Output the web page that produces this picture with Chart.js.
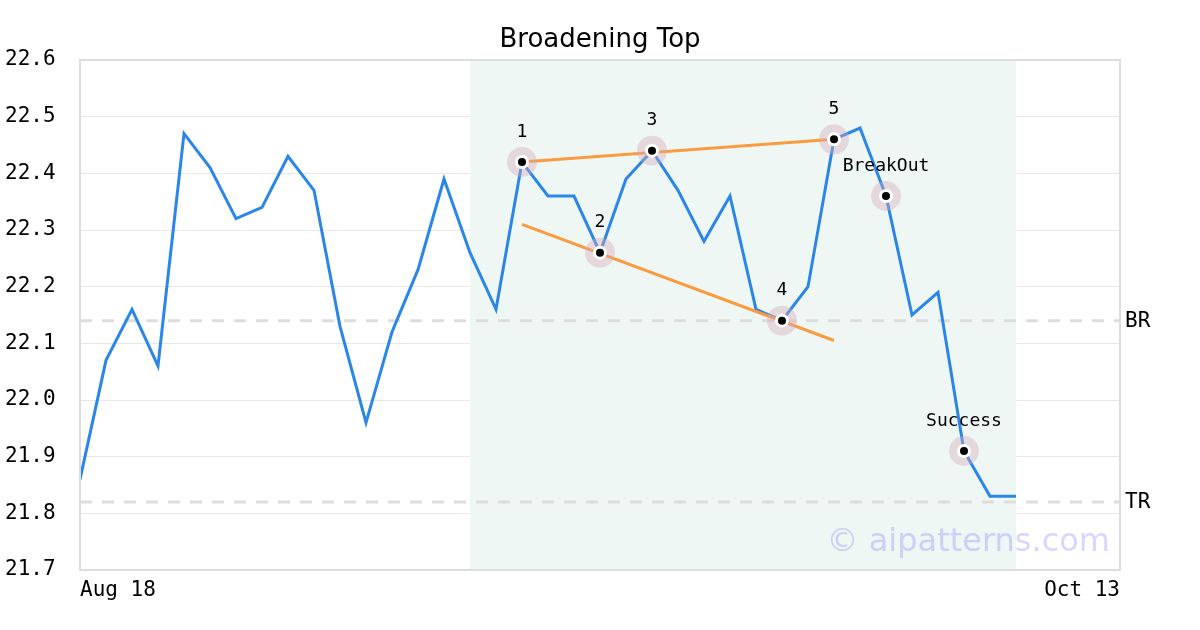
<!DOCTYPE html>
<html>
<head>
<meta charset="utf-8">
<script src="https://cdn.jsdelivr.net/npm/chart.js@4"></script>
<style>
  html, body { margin: 0; padding: 0; background: #fff; }
  #wrap { width: 1200px; height: 630px; }
</style>
</head>
<body>
<div id="wrap"><canvas id="chart" width="1200" height="630"></canvas></div>
<script>
// dates (trading days) on the x axis
const dates = [
  'Aug 18','Aug 19','Aug 20','Aug 21','Aug 22',
  'Aug 25','Aug 26','Aug 27','Aug 28','Aug 29',
  'Sep 1','Sep 2','Sep 3','Sep 4','Sep 5',
  'Sep 8','Sep 9','Sep 10','Sep 11','Sep 12',
  'Sep 15','Sep 16','Sep 17','Sep 18','Sep 19',
  'Sep 22','Sep 23','Sep 24','Sep 25','Sep 26',
  'Sep 29','Sep 30','Oct 1','Oct 2','Oct 3',
  'Oct 6','Oct 7','Oct 8','Oct 9','Oct 10',
  'Oct 13'
];

// closing prices
const prices = [
  21.86, 22.07, 22.16, 22.06, 22.47, 22.41, 22.32, 22.34, 22.43, 22.37,
  22.13, 21.96, 22.12, 22.23, 22.39, 22.26, 22.16, 22.42, 22.36, 22.36,
  22.26, 22.39, 22.44, 22.37, 22.28, 22.36, 22.16, 22.14, 22.20, 22.46,
  22.48, 22.36, 22.15, 22.19, 21.91, 21.83, 21.83
];

// pattern points
const markerIdx = [17, 20, 22, 27, 29, 31, 34];
const markerText = ['1', '2', '3', '4', '5', 'BreakOut', 'Success'];

// trend lines (start index, end index) and their values
const lineIdx = [17, 29];
const topLine = [22.42, 22.46];
const bottomLine = [22.31, 22.105];

// horizontal levels
const levelNames = ['BR', 'TR'];
const levelValues = [22.14, 21.82];

// shaded pattern range (index)
const zoneIdx = [15, 36];

const yTicks = [21.7, 21.8, 21.9, 22.0, 22.1, 22.2, 22.3, 22.4, 22.5, 22.6];

const mono = 'DejaVu Sans Mono';

function sparse(idx, vals) {
    const arr = dates.map(() => null);
    idx.forEach((i, k) => { arr[i] = vals[k]; });
    return arr;
}

const markerVals = markerIdx.map(i => prices[i]);

// zone shading, frame, title, level labels, marker labels, watermark
const decorPlugin = {
    id: 'decor',
    beforeDatasetsDraw(chart) {
        const ctx = chart.ctx;
        const area = chart.chartArea;
        const x = chart.scales.x;
        const x1 = x.getPixelForValue(zoneIdx[0]);
        const x2 = x.getPixelForValue(zoneIdx[1]);
        ctx.save();
        ctx.fillStyle = '#eff7f4';
        ctx.fillRect(x1, area.top, x2 - x1, area.bottom - area.top);

        // title, centred on the canvas
        ctx.font = '26px "DejaVu Sans"';
        ctx.fillStyle = '#000';
        ctx.textAlign = 'center';
        ctx.textBaseline = 'middle';
        ctx.fillText('Broadening Top', chart.width / 2, 40);
        ctx.restore();
    },
    afterDatasetsDraw(chart) {
        const ctx = chart.ctx;
        const area = chart.chartArea;
        const y = chart.scales.y;
        ctx.save();

        // watermark
        ctx.font = '32px "DejaVu Sans"';
        ctx.fillStyle = 'rgba(120, 120, 255, 0.3)';
        ctx.textAlign = 'right';
        ctx.textBaseline = 'middle';
        ctx.fillText('\u00a9 aipatterns.com', area.right - 10, 543);

        // frame
        ctx.strokeStyle = '#dddddd';
        ctx.lineWidth = 2;
        ctx.strokeRect(area.left, area.top, area.right - area.left, area.bottom - area.top);

        // level labels
        ctx.font = '21px "' + mono + '"';
        ctx.fillStyle = '#000';
        ctx.textAlign = 'left';
        levelNames.forEach((name, k) => {
            ctx.fillText(name, area.right + 5, y.getPixelForValue(levelValues[k]) + 1);
        });

        // marker labels
        const meta = chart.getDatasetMeta(0);
        ctx.font = '18px "' + mono + '"';
        ctx.textAlign = 'center';
        meta.data.forEach((pt, i) => {
            const k = markerIdx.indexOf(i);
            if (k < 0) return;
            ctx.fillText(markerText[k], pt.x, pt.y - 30);
        });
        ctx.restore();
    }
};

const ctx = document.getElementById('chart').getContext('2d');

// chart.js draws dataset 0 on top, so the markers come first
new Chart(ctx, {
    type: 'line',
    data: {
        labels: dates,
        datasets: [
            {
                data: sparse(markerIdx, markerVals),
                showLine: false,
                pointRadius: 5.5,
                pointBackgroundColor: '#000',
                pointBorderColor: '#fff',
                pointBorderWidth: 3
            },
            {
                // halo
                data: sparse(markerIdx, markerVals),
                showLine: false,
                pointRadius: 15,
                pointBackgroundColor: 'rgba(215, 170, 185, 0.4)',
                pointBorderWidth: 0
            },
            {
                data: sparse(lineIdx, topLine),
                borderColor: '#f99b3e',
                borderWidth: 3,
                pointRadius: 0,
                spanGaps: true
            },
            {
                data: sparse(lineIdx, bottomLine),
                borderColor: '#f99b3e',
                borderWidth: 3,
                pointRadius: 0,
                spanGaps: true
            },
            {
                data: prices,
                borderColor: '#2a86e8',
                borderWidth: 3,
                pointRadius: 0,
                tension: 0
            },
            {
                data: dates.map(() => levelValues[0]),
                borderColor: '#dddddd',
                borderWidth: 3,
                borderDash: [12, 10],
                pointRadius: 0
            },
            {
                data: dates.map(() => levelValues[1]),
                borderColor: '#dddddd',
                borderWidth: 3,
                borderDash: [12, 10],
                pointRadius: 0
            }
        ]
    },
    options: {
        responsive: false,
        animation: false,
        layout: { padding: { left: 5, right: 80, top: 60, bottom: 0 } },
        plugins: {
            legend: { display: false },
            tooltip: { enabled: false },
            title: { display: false }
        },
        scales: {
            x: {
                offset: false,
                grid: { display: false, drawTicks: false },
                border: { display: false },
                ticks: {
                    autoSkip: false,
                    maxRotation: 0,
                    align: 'inner',
                    padding: 8,
                    color: '#000',
                    font: { family: mono, size: 21 },
                    callback: function(v, i) {
                        return (i === 0 || i === dates.length - 1) ? dates[i] : '';
                    }
                },
                afterFit: function(s) { s.height = 60; }
            },
            y: {
                min: 21.7,
                max: 22.6,
                afterBuildTicks: function(s) { s.ticks = yTicks.map(v => ({ value: v })); },
                grid: { color: '#e8e8e8', lineWidth: 1, drawTicks: false },
                border: { display: false },
                ticks: {
                    crossAlign: 'far',
                    color: '#000',
                    font: { family: mono, size: 21 },
                    callback: v => v.toFixed(1)
                },
                afterFit: function(s) { s.width = 75; }
            }
        }
    },
    plugins: [decorPlugin]
});
</script>
</body>
</html>
